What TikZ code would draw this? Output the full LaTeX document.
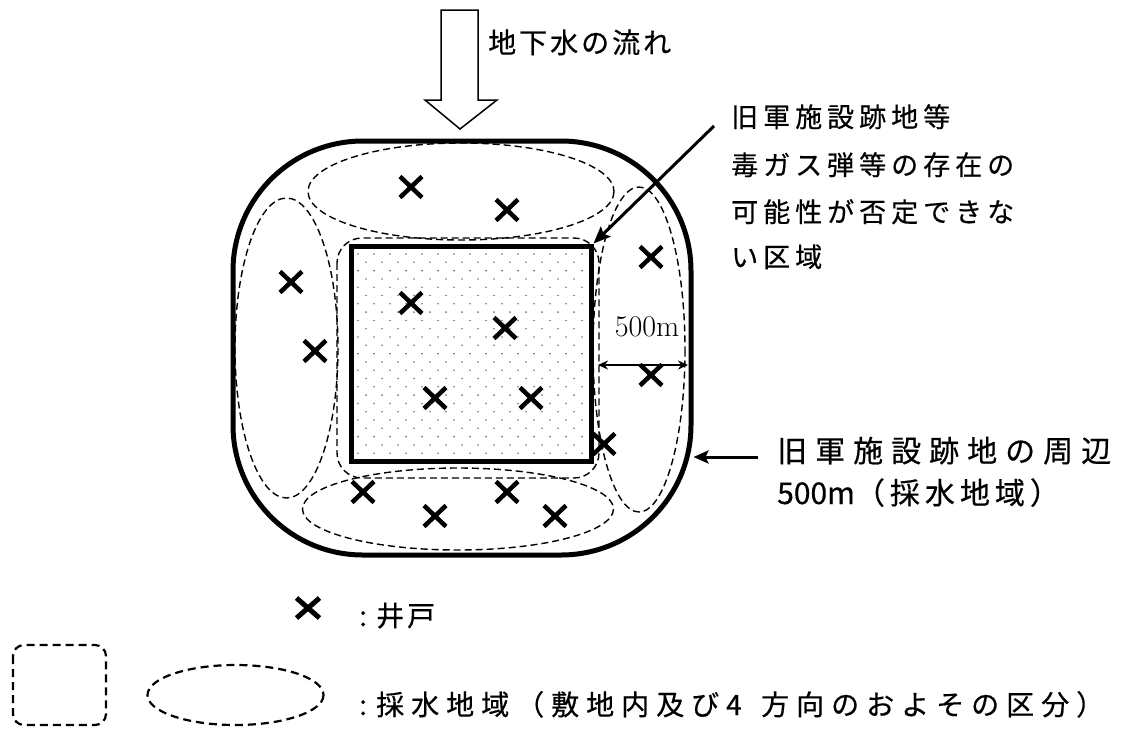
\documentclass[tikz,border=0pt]{standalone}
\usepackage{fontspec}
\newfontfamily\jp[FakeBold=0.5]{Noto Sans CJK JP}
\usetikzlibrary{arrows.meta}
\makeatletter
\def\sp@end{}
\newcommand\spc[2]{\def\sp@w{#1}\sp@aux#2\sp@end}
\def\sp@aux#1{\ifx#1\sp@end\else\makebox[\sp@w][l]{#1}\expandafter\sp@aux\fi}
\makeatother
\begin{document}
\begin{tikzpicture}[x=1pt,y=-1pt,
  dsh/.style={line width=1.4pt, dash pattern=on 7pt off 4pt},
  dshL/.style={line width=2.2pt, dash pattern=on 8pt off 5pt},
  jtext/.style={font=\jp\fontsize{27pt}{30pt}\selectfont, inner sep=0pt, anchor=base west},
  jbig/.style={font=\jp\fontsize{30pt}{30pt}\selectfont, inner sep=0pt, anchor=base west},
  jleg/.style={font=\jp\fontsize{28pt}{30pt}\selectfont, inner sep=0pt, anchor=base west},
  dotc/.style={fill=black!55},
  wellmark/.pic={\draw[line width=4.5pt] (-11,-10.5) -- (11,10.5) (-11,10.5) -- (11,-10.5);},
  legwell/.pic={\draw[line width=5pt] (-11.5,-10) -- (11.5,10) (-11.5,10) -- (11.5,-10);},
]
\useasboundingbox (0,0) rectangle (1135,729);

% outer 500 m area
\node[draw, line width=5pt, rounded corners=130pt, minimum width=458pt, minimum height=414pt, inner sep=0pt] (area) at (462,348) {};

% dashed sub-regions
\draw[dsh] (461,191.5) ellipse [x radius=153, y radius=48.5];
\draw[dsh] (458,509) ellipse [x radius=155.5, y radius=41];
\draw[dsh] (286.5,348) ellipse [x radius=51.5, y radius=150];
\draw[dsh] (639,349.5) ellipse [x radius=46, y radius=162.5];
\draw[dsh, rounded corners=25pt] (337,238) rectangle (599,478);

% dotted fill of the site
\foreach \r in {0,...,24}{
  \pgfmathtruncatemacro\odd{mod(\r,2)}
  \foreach \c in {0,...,14}{
    \pgfmathsetmacro\xx{358+16*\c+8*\odd}
    \ifdim\xx pt<586pt \fill[dotc] (\xx,{254+8.3*\r}) circle (0.9pt);\fi
  }
}

% former military site
\node[draw, line width=5pt, minimum width=240pt, minimum height=215pt, inner sep=0pt] (zone) at (471,353.5) {};

% wells
\foreach \p in {(411,187),(507,210),(291,282),(315,351),(651,257),(651,375),(411,303),(505,328),(435,398),(531,398),(604,444),(363,492),(507,492),(435,516),(555,516)}
  \pic at \p {wellmark};

% groundwater flow arrow
\draw[line width=1.5pt, line join=miter] (441,10) -- (478,10) -- (478,100) -- (497,100) -- (460,129) -- (425,100) -- (441,100) -- cycle;
\node[jtext, font=\jp\fontsize{28pt}{30pt}\selectfont] (flow) at (488,53) {\spc{31pt}{地下水の流れ}};

% site label
\node[jtext] (t1) at (731,127) {\spc{32pt}{旧軍施設跡地等}};
\node[jtext] (t2) at (731,175) {\spc{32pt}{毒ガス弾等の存在の}};
\node[jtext] (t3) at (731,222) {\spc{32pt}{可能性が否定できな}};
\node[jtext] (t4) at (731,267) {\spc{32pt}{い区域}};
\coordinate (lead) at (714,126);
\draw[line width=3pt, -{Stealth[length=17pt,width=14pt,inset=3pt]}] (lead) -- (zone.north east);

% 500 m dimension
\node[font=\fontsize{30pt}{30pt}\selectfont\addfontfeature{FakeBold=0.6}, inner sep=0pt] (dim) at (647,327) {500m};
\coordinate (d1) at (598,365);
\coordinate (d2) at (688,365);
\draw[line width=1.5pt, {Stealth[length=10pt,width=9pt]}-{Stealth[length=10pt,width=9pt]}] (d1) -- (d2);

% surrounding area label
\node[jbig] (l1) at (777,462) {\spc{38pt}{旧軍施設跡地の周辺}};
\node[jbig] (l2) at (777,504) {500m\spc{35pt}{（採水地域）}};
\coordinate (la) at (758,457);
\draw[line width=3pt, -{Stealth[length=15pt,width=13pt,inset=3pt]}] (la) -- (area.east |- la);

% legend
\pic at (308,608) {legwell};
\node[jleg] (lg1) at (359,626) {\makebox[17pt][l]{:}\spc{31pt}{井戸}};
\draw[dshL, rounded corners=11pt] (13,645) rectangle (106,725);
\draw[dshL] (235.5,695) ellipse [x radius=88, y radius=30];
\node[jleg] (lg2) at (359,715) {\makebox[17pt][l]{:}\spc{35pt}{採水地域（敷地内及び4方向のおよその区分）}};
\end{tikzpicture}
\end{document}
